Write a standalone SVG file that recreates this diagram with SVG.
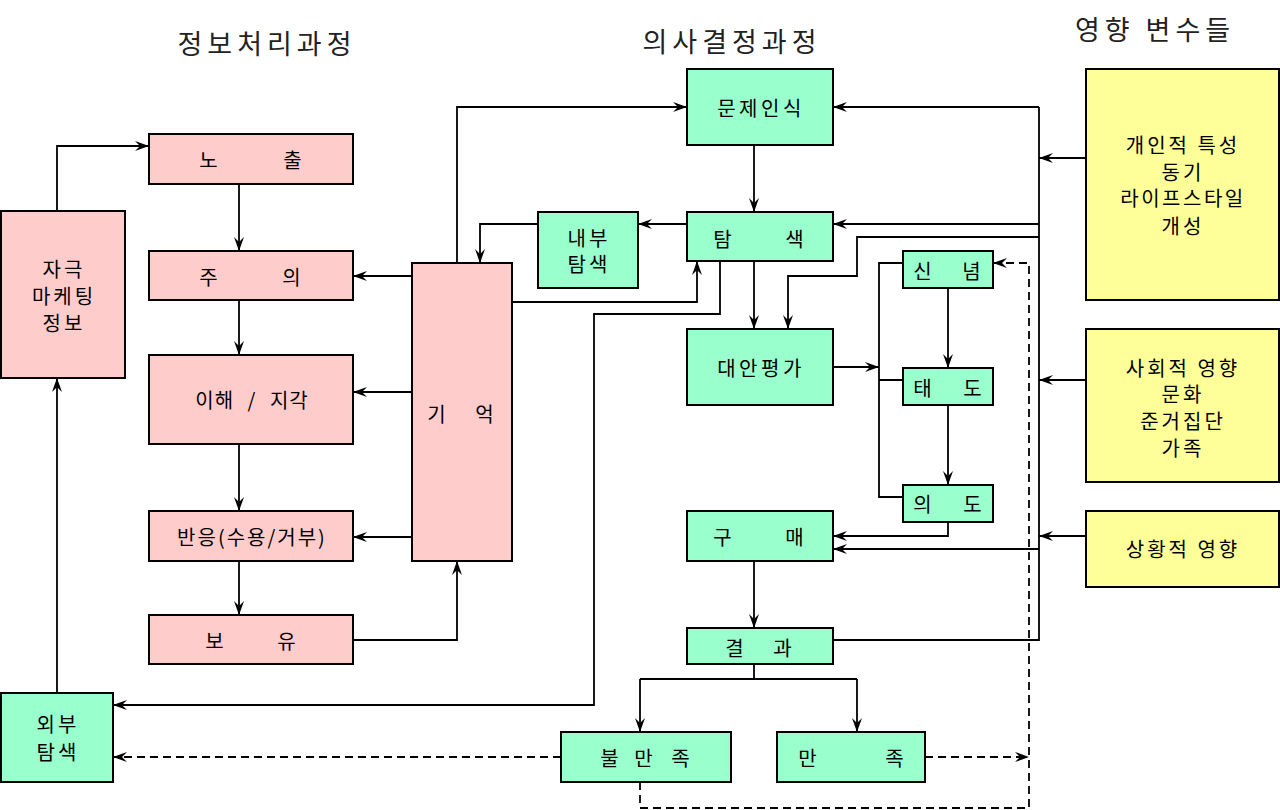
<svg xmlns="http://www.w3.org/2000/svg" width="1280" height="810" viewBox="0 0 1280 810">
<style>
.pk{fill:#ffcccc;stroke:#000;stroke-width:2}
.gr{fill:#99ffcc;stroke:#000;stroke-width:2}
.yl{fill:#ffff99;stroke:#000;stroke-width:2}
text{font-family:"Noto Sans CJK KR","Noto Sans",sans-serif;font-size:20px;fill:#000;text-anchor:middle;dominant-baseline:central;letter-spacing:3px}
.t{font-size:27px;letter-spacing:5px;fill:#222}
.c path{fill:none;stroke:#000;stroke-width:1.8}
.c .a{marker-end:url(#ah)}
.c .d{stroke-dasharray:8,5}
</style>
<defs>
<marker id="ah" viewBox="0 0 14 10" refX="14" refY="5" markerWidth="14" markerHeight="10" orient="auto" markerUnits="userSpaceOnUse">
<path d="M0,0 L14,5 L0,10 L5,5 Z" fill="#000"/>
</marker>
</defs>
<rect width="1280" height="810" fill="#fff"/>
<text class="t" x="267" y="42">정보처리과정</text>
<text class="t" x="732" y="40">의사결정과정</text>
<text class="t" x="1155" y="28">영향 변수들</text>

<g class="c">
<path class="a" d="M57,211 V146 H149"/>
<path class="a" d="M239,184 V251"/>
<path class="a" d="M239,300 V355"/>
<path class="a" d="M239,444 V511"/>
<path class="a" d="M239,561 V615"/>
<path class="a" d="M353,640 H457 V561"/>
<path class="a" d="M412,276 H353"/>
<path class="a" d="M412,392 H353"/>
<path class="a" d="M412,537 H353"/>
<path class="a" d="M457,263 V107 H687"/>
<path class="a" d="M538,224 H480 V263"/>
<path class="a" d="M687,224 H638"/>
<path class="a" d="M512,302 H697 V261"/>
<path class="a" d="M720,261 V314 H594 V705 H113"/>
<path class="a" d="M754,145 V212"/>
<path class="a" d="M754,261 V329"/>
<path class="a" d="M1039,237 H857 V276 H788 V329"/>
<path d="M1039,107 V640 H833"/>
<path class="a" d="M1039,107 H833"/>
<path class="a" d="M1039,224 H833"/>
<path class="a" d="M1039,549 H833"/>
<path class="a" d="M1086,158 H1039"/>
<path class="a" d="M1086,380 H1039"/>
<path class="a" d="M1086,536 H1039"/>
<path class="a" d="M833,367 H879"/>
<path d="M903,263 H879 V497 H903 M879,380 H903"/>
<path class="a" d="M948,288 V368"/>
<path class="a" d="M948,405 V485"/>
<path class="a" d="M948,522 V536 H833"/>
<path class="a" d="M754,561 V628"/>
<path d="M754,664 V679 M640,679 H857"/>
<path class="a" d="M640,679 V732"/>
<path class="a" d="M857,679 V732"/>
<path class="a d" d="M925,757 H1029"/>
<path class="a d" d="M640,782 V808 H1029 V263 H993"/>
<path class="a d" d="M561,757 H113"/>
<path class="a" d="M57,693 V378"/>
</g>

<g id="stimulus"><rect class="pk" x="1" y="211" width="124" height="167"/>
<text x="64" y="268">자극</text><text x="64" y="295">마케팅</text><text x="64" y="322">정보</text></g>
<g id="exposure"><rect class="pk" x="149" y="134" width="204" height="50"/>
<text y="159"><tspan x="210">노</tspan><tspan x="294">출</tspan></text></g>
<g id="attention"><rect class="pk" x="149" y="251" width="204" height="49"/>
<text y="276"><tspan x="210">주</tspan><tspan x="293">의</tspan></text></g>
<g id="comprehension"><rect class="pk" x="149" y="355" width="204" height="89"/>
<text x="252" y="399" style="letter-spacing:1px;word-spacing:8px">이해 / 지각</text></g>
<g id="response"><rect class="pk" x="149" y="511" width="204" height="50"/>
<text x="252" y="536" style="letter-spacing:2px">반응(수용/거부)</text></g>
<g id="retention"><rect class="pk" x="149" y="615" width="204" height="49"/>
<text y="640"><tspan x="216">보</tspan><tspan x="288">유</tspan></text></g>
<g id="memory"><rect class="pk" x="412" y="263" width="100" height="298"/>
<text y="413"><tspan x="438">기</tspan><tspan x="486">억</tspan></text></g>
<g id="external-search"><rect class="gr" x="1" y="693" width="112" height="89"/>
<text x="58" y="723">외부</text><text x="58" y="751">탐색</text></g>
<g id="problem"><rect class="gr" x="687" y="69" width="146" height="76"/>
<text x="761" y="107" style="letter-spacing:3.5px">문제인식</text></g>
<g id="internal-search"><rect class="gr" x="538" y="212" width="100" height="76"/>
<text x="589" y="237">내부</text><text x="589" y="263">탐색</text></g>
<g id="search"><rect class="gr" x="687" y="212" width="146" height="49"/>
<text y="238"><tspan x="724">탐</tspan><tspan x="796">색</tspan></text></g>
<g id="evaluation"><rect class="gr" x="687" y="329" width="146" height="76"/>
<text x="761" y="367" style="letter-spacing:3.5px">대안평가</text></g>
<g id="belief"><rect class="gr" x="903" y="251" width="90" height="37"/>
<text y="270"><tspan x="924">신</tspan><tspan x="973">념</tspan></text></g>
<g id="attitude"><rect class="gr" x="903" y="368" width="90" height="37"/>
<text y="387"><tspan x="924">태</tspan><tspan x="974">도</tspan></text></g>
<g id="intention"><rect class="gr" x="903" y="485" width="90" height="37"/>
<text y="503"><tspan x="924">의</tspan><tspan x="974">도</tspan></text></g>
<g id="purchase"><rect class="gr" x="687" y="511" width="146" height="50"/>
<text y="536"><tspan x="724">구</tspan><tspan x="796">매</tspan></text></g>
<g id="outcome"><rect class="gr" x="687" y="628" width="146" height="36"/>
<text y="647"><tspan x="736">결</tspan><tspan x="784">과</tspan></text></g>
<g id="dissatisfaction"><rect class="gr" x="561" y="732" width="170" height="50"/>
<text y="757"><tspan x="611">불</tspan><tspan x="645">만</tspan><tspan x="682">족</tspan></text></g>
<g id="satisfaction"><rect class="gr" x="777" y="732" width="148" height="50"/>
<text y="757"><tspan x="809">만</tspan><tspan x="896">족</tspan></text></g>
<g id="personal"><rect class="yl" x="1086" y="69" width="193" height="231"/>
<text x="1183" y="144">개인적 특성</text><text x="1183" y="171">동기</text><text x="1183" y="197" style="letter-spacing:2.5px">라이프스타일</text><text x="1183" y="225">개성</text></g>
<g id="social"><rect class="yl" x="1086" y="329" width="193" height="153"/>
<text x="1183" y="367">사회적 영향</text><text x="1183" y="393">문화</text><text x="1183" y="420">준거집단</text><text x="1183" y="447">가족</text></g>
<g id="situational"><rect class="yl" x="1086" y="511" width="193" height="76"/>
<text x="1183" y="548">상황적 영향</text></g>
</svg>
